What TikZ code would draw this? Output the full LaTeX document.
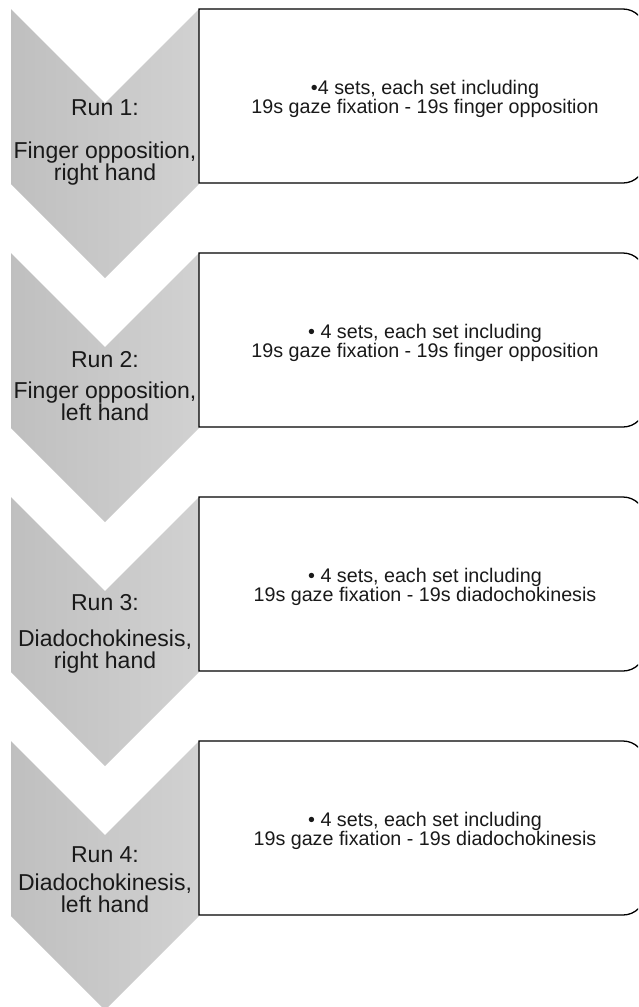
\documentclass[tikz,border=0pt]{standalone}
\usepackage{fontspec}
\setmainfont{Liberation Sans}
\usetikzlibrary{positioning}
\tikzset{
    chevron/.style={left color=black!25, right color=black!18, draw=none},
    taskbox/.style={draw=black, line width=1.3pt},
    runlabel/.style={font=\fontsize{23}{21}\selectfont, text=black!90, inner sep=0pt, anchor=base},
    desclabel/.style={font=\fontsize{23}{21.5}\selectfont, text=black!90, inner sep=0pt, align=center, anchor=base},
    tasklabel/.style={font=\fontsize{19.7}{18}\selectfont, text=black!90, inner sep=0pt, align=center},
}
\begin{document}
\begin{tikzpicture}[x=1pt,y=-1pt]
            \useasboundingbox (0,0) rectangle (638,1007);
            \clip (0,0) rectangle (638,1007);
            \foreach \k/\ra/\rb/\desc/\task [count=\n] in
                {0/106/171/{Finger opposition,\\right hand}/{\textbullet 4 sets, each set including\\19s gaze fixation - 19s finger opposition},
                 1/114/167/{Finger opposition,\\left hand}/{\textbullet{} 4 sets, each set including\\19s gaze fixation - 19s finger opposition},
                 2/113/171/{Diadochokinesis,\\right hand}/{\textbullet{} 4 sets, each set including\\19s gaze fixation - 19s diadochokinesis},
                 3/121/171/{Diadochokinesis,\\left hand}/{\textbullet{} 4 sets, each set including\\19s gaze fixation - 19s diadochokinesis}}
            {
                \pgfmathsetmacro{\ytop}{9+244*\k}
                \path[chevron] (11,\ytop) -- (105,\ytop+94) -- (199,\ytop) -- (199,\ytop+175)
                    -- (105,\ytop+269) -- (11,\ytop+175) -- cycle;
                \draw[taskbox] (199,\ytop) [rounded corners=22pt] -- (645,\ytop) -- (645,\ytop+174)
                    [sharp corners] -- (199,\ytop+174) -- cycle;
                \node[runlabel] (run\n) at (105,\ytop+\ra) {Run \n:};
                \node[desclabel] (desc\n) at (105,\ytop+\rb) {\desc};
                \node[tasklabel] (task\n) at (425,\ytop+90) {\task};
            }
\end{tikzpicture}
\end{document}
